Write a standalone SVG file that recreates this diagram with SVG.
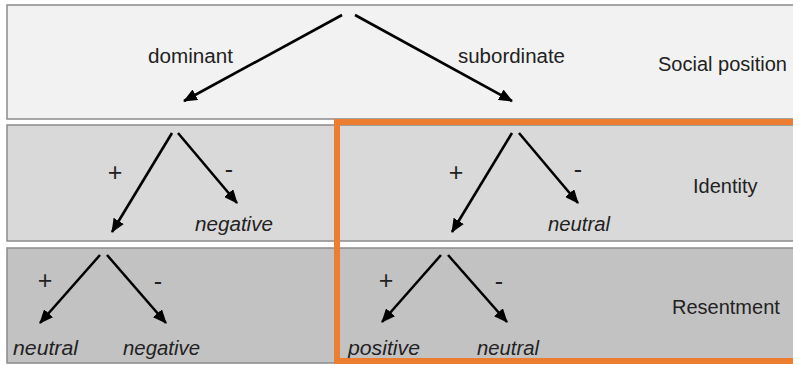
<svg xmlns="http://www.w3.org/2000/svg" width="793" height="365" viewBox="0 0 793 365">
<defs>
<style>
.band{stroke:#8a8a8a;stroke-width:1.5}
.t{font-family:"Liberation Sans",Arial,sans-serif;font-size:20px;fill:#222}
.s{font-size:25px}
.i{font-style:italic}
.m{text-anchor:middle}
.c line{stroke:#000;stroke-width:2.6;marker-end:url(#ah)}
</style>
<marker id="ah" markerUnits="userSpaceOnUse" markerWidth="14" markerHeight="12" viewBox="0 0 14 12" refX="13" refY="6" orient="auto">
<path d="M0,0 L14,6 L0,12 Z" fill="#000"/>
</marker>
</defs>
<rect width="793" height="365" fill="#ffffff"/>
<g id="band-social">
<rect class="band" x="7" y="5" width="800" height="114" fill="#f2f2f2"/>
<text class="t" x="148" y="63" textLength="85" lengthAdjust="spacingAndGlyphs">dominant</text>
<text class="t" x="458" y="63" textLength="107" lengthAdjust="spacingAndGlyphs">subordinate</text>
<text class="t" x="658" y="71">Social position</text>
</g>
<g id="band-identity">
<rect class="band" x="7" y="125" width="800" height="116" fill="#d9d9d9"/>
<text class="t s m" x="115" y="181">+</text>
<text class="t s m" x="229" y="178">-</text>
<text class="t i" x="195" y="231" textLength="78" lengthAdjust="spacingAndGlyphs">negative</text>
<text class="t s m" x="456" y="181">+</text>
<text class="t s m" x="578" y="178">-</text>
<text class="t i" x="548" y="231" textLength="62" lengthAdjust="spacingAndGlyphs">neutral</text>
<text class="t" x="693" y="193">Identity</text>
</g>
<g id="band-resentment">
<rect class="band" x="7" y="248" width="800" height="115" fill="#c2c2c2"/>
<text class="t s m" x="45" y="289">+</text>
<text class="t s m" x="158" y="290">-</text>
<text class="t i" x="13" y="355" textLength="65" lengthAdjust="spacingAndGlyphs">neutral</text>
<text class="t i" x="123" y="355" textLength="77" lengthAdjust="spacingAndGlyphs">negative</text>
<text class="t s m" x="386" y="289">+</text>
<text class="t s m" x="499" y="290">-</text>
<text class="t i" x="348" y="355" textLength="72" lengthAdjust="spacingAndGlyphs">positive</text>
<text class="t i" x="477" y="355" textLength="62" lengthAdjust="spacingAndGlyphs">neutral</text>
<text class="t" x="672" y="314">Resentment</text>
</g>
<g id="highlight">
<rect x="337" y="122" width="470" height="239" fill="none" stroke="#ed7d31" stroke-width="6"/>
</g>
<g id="connectors" class="c">
<line x1="342" y1="15" x2="184" y2="101"/>
<line x1="355" y1="15" x2="512" y2="101"/>
<line x1="172" y1="133" x2="112" y2="232"/>
<line x1="178" y1="133" x2="237" y2="203"/>
<line x1="512" y1="133" x2="452" y2="232"/>
<line x1="519" y1="133" x2="578" y2="203"/>
<line x1="100" y1="255" x2="40" y2="323"/>
<line x1="107" y1="255" x2="166" y2="323"/>
<line x1="441" y1="255" x2="382" y2="322"/>
<line x1="448" y1="255" x2="507" y2="322"/>
</g>
</svg>
